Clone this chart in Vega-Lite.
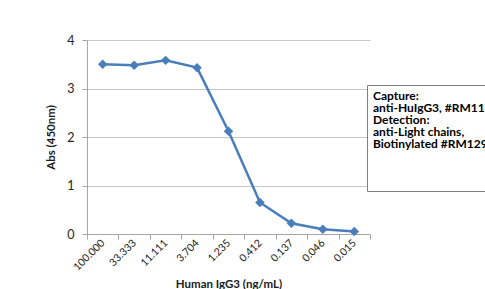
{
  "$schema": "https://vega.github.io/schema/vega-lite/v6.json",
  "autosize": {"type": "none"},
  "width": 283,
  "height": 194,
  "padding": {"left": 87, "top": 40, "right": 115, "bottom": 55},
  "background": "white",
  "config": {
    "view": {"stroke": null},
    "font": "Lato"
  },
  "datasets": {
    "main": [
      {"conc": "100.000", "abs": 3.5},
      {"conc": "33.333", "abs": 3.48},
      {"conc": "11.111", "abs": 3.58},
      {"conc": "3.704", "abs": 3.43},
      {"conc": "1.235", "abs": 2.12},
      {"conc": "0.412", "abs": 0.65},
      {"conc": "0.137", "abs": 0.22},
      {"conc": "0.046", "abs": 0.1},
      {"conc": "0.015", "abs": 0.05}
    ],
    "notes": [
      {"note": "Capture:"},
      {"note": "anti-HuIgG3, #RM119"},
      {"note": "Detection:"},
      {"note": "anti-Light chains,"},
      {"note": "Biotinylated #RM129"},
      {"note": "_1"},
      {"note": "_2"},
      {"note": "_3"}
    ]
  },
  "layer": [
    {
      "data": {"name": "main"},
      "mark": {
        "type": "line",
        "color": "#4a7ebb",
        "strokeWidth": 2.5,
        "point": {"shape": "diamond", "size": 90, "filled": true, "color": "#4a7ebb", "opacity": 1}
      },
      "encoding": {
        "x": {
          "field": "conc",
          "type": "ordinal",
          "sort": null,
          "scale": {"paddingInner": 0, "paddingOuter": 0},
          "axis": {
            "title": "Human IgG3 (ng/mL)",
            "titleFont": "Lato",
            "titleFontWeight": "bold",
            "titleFontSize": 11.5,
            "titleColor": "#1a1a1a",
            "titlePadding": 6,
            "labelAngle": -45,
            "labelAlign": "right",
            "labelBaseline": "middle",
            "labelFontSize": 10.5,
            "labelColor": "#1a1a1a",
            "labelPadding": 2,
            "labelDx": 3,
            "tickBand": "extent",
            "tickSize": 5,
            "tickColor": "#a6a6a6",
            "domainColor": "#a6a6a6",
            "grid": false
          }
        },
        "y": {
          "field": "abs",
          "type": "quantitative",
          "scale": {"domain": [0, 4], "nice": false},
          "axis": {
            "title": "Abs (450nm)",
            "titleFont": "Lato",
            "titleFontWeight": "bold",
            "titleFontSize": 11.5,
            "titleColor": "#1a1a1a",
            "titlePadding": 10,
            "values": [0, 1, 2, 3, 4],
            "labelFontSize": 12.5,
            "labelColor": "#262626",
            "labelPadding": 8,
            "tickSize": 5,
            "tickColor": "#a6a6a6",
            "domainColor": "#a6a6a6",
            "grid": true,
            "gridColor": "#c8c8c8"
          }
        }
      }
    },
    {
      "data": {"name": "notes"},
      "mark": {"type": "point", "opacity": 0},
      "encoding": {
        "color": {
          "field": "note",
          "type": "nominal",
          "sort": null,
          "scale": {"range": ["black"]},
          "legend": {
            "orient": "none",
            "legendX": 280,
            "legendY": 45,
            "title": null,
            "symbolSize": 0,
            "symbolOpacity": 0,
            "symbolStrokeWidth": 0,
            "labelOffset": -11,
            "labelFont": "Lato",
            "labelFontWeight": "bold",
            "labelFontSize": 12,
            "labelColor": "black",
            "labelLimit": 400,
            "labelExpr": "indexof(datum.label, '_') == 0 ? ' ' : datum.label",
            "rowPadding": -1,
            "padding": 5,
            "strokeColor": "#7f7f7f",
            "fillColor": "white"
          }
        }
      }
    }
  ]
}
